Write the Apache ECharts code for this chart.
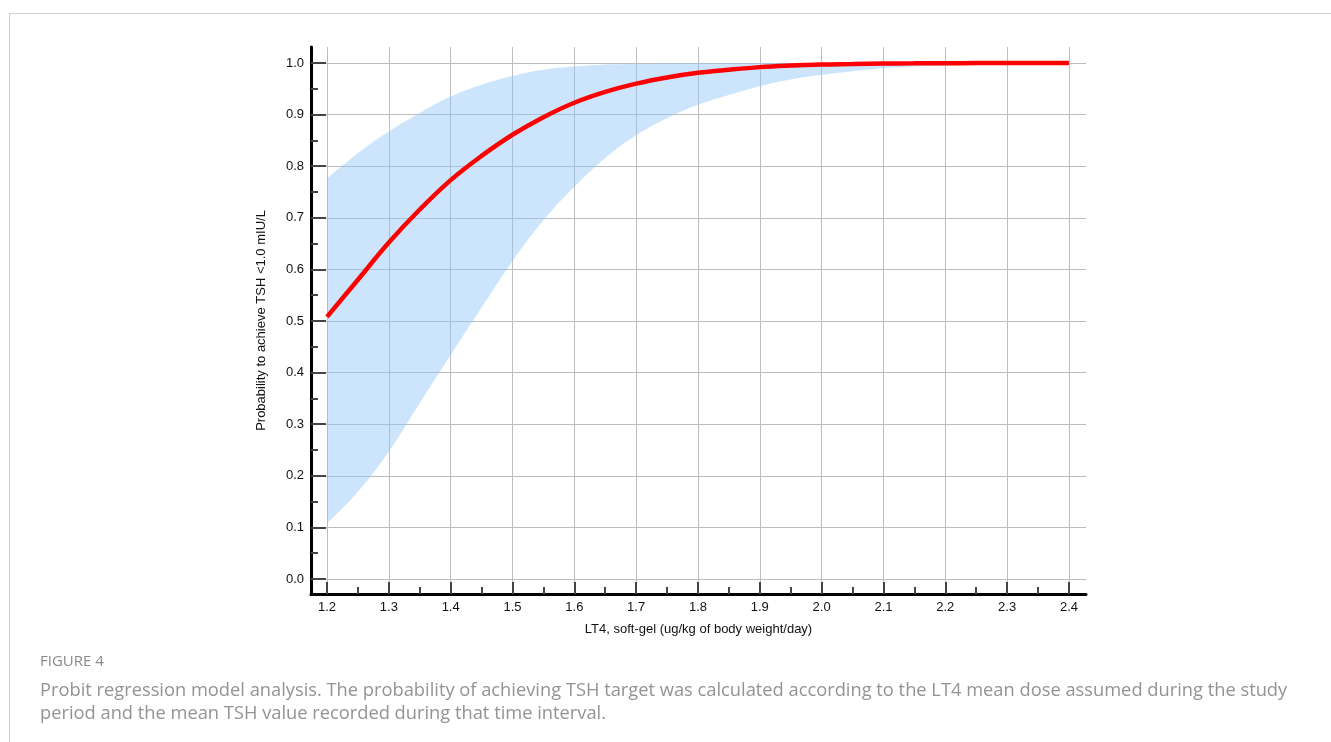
<!DOCTYPE html>
<html>
<head>
<meta charset="utf-8">
<script src="https://cdn.jsdelivr.net/npm/echarts@6/dist/echarts.min.js"></script>
<style>
  html, body { margin: 0; padding: 0; background: #fff; }
  #card { position: absolute; left: 9px; top: 13px; width: 1322px; height: 729px; border-top: 1px solid #cfcfcf; border-left: 1px solid #cfcfcf; box-sizing: border-box; }
  #chart { position: absolute; left: 0; top: 0; width: 1331px; height: 742px; }
  #fig { position: absolute; left: 40px; top: 650px; font-family: 'Open Sans', sans-serif; font-size: 15px; line-height: 20px; color: #8a8a8a; }
  #cap { position: absolute; left: 40px; top: 677px; width: 1285px; font-family: 'Open Sans', sans-serif; font-size: 18.3px; line-height: 23px; color: #939393; white-space: nowrap; }
</style>
</head>
<body>
<div id="card"></div>
<div id="chart"></div>
<div id="fig">FIGURE 4</div>
<div id="cap">Probit regression model analysis. The probability of achieving TSH target was calculated according to the LT4 mean dose assumed during the study<br>period and the mean TSH value recorded during that time interval.</div>
<script>
// Data
const doseX = [1.20,1.25,1.30,1.35,1.40,1.45,1.50,1.55,1.60,1.65,1.70,1.75,1.80,1.85,1.90,1.95,2.00,2.05,2.10,2.15,2.20,2.25,2.30,2.35,2.40];
const probit = [0.508,0.580,0.652,0.716,0.773,0.820,0.861,0.895,0.923,0.944,0.960,0.972,0.981,0.987,0.992,0.995,0.997,0.998,0.999,0.9993,0.9996,0.9998,0.9999,1.0,1.0];
const upperCI = [0.776,0.825,0.867,0.903,0.935,0.958,0.975,0.987,0.993,0.997,0.998,0.999,0.9995,1.0,1.0,1.0,1.0,1.0,1.0,1.0,1.0,1.0,1.0,1.0,1.0];
const lowerCI = [0.108,0.169,0.247,0.341,0.434,0.526,0.616,0.695,0.760,0.816,0.860,0.893,0.919,0.938,0.955,0.968,0.977,0.984,0.990,0.993,0.995,0.997,0.998,0.999,0.999];
const xMajorTicks = [1.2,1.3,1.4,1.5,1.6,1.7,1.8,1.9,2.0,2.1,2.2,2.3,2.4];
const xMinorTicks = [1.25,1.35,1.45,1.55,1.65,1.75,1.85,1.95,2.05,2.15,2.25,2.35];
const yMajorTicks = [0,0.1,0.2,0.3,0.4,0.5,0.6,0.7,0.8,0.9,1.0];
const yMinorTicks = [0.05,0.15,0.25,0.35,0.45,0.55,0.65,0.75,0.85,0.95];
const xTitle = 'LT4, soft-gel (ug/kg of body weight/day)';
const yTitle = 'Probability to achieve TSH <1.0 mIU/L';

const xMin = 1.1741, xMax = 2.4276, yMin = -0.0291, yMax = 1.031;
const font = 'Liberation Sans, Arial, sans-serif';

const pairs = (xs, ys) => xs.map((x, i) => [x, ys[i]]);
// value first, dose second, so that stacking happens on the y value
const valueFirst = (xs, ys) => xs.map((x, i) => [ys[i], x]);
const bandWidth = upperCI.map((u, i) => u - lowerCI[i]);

const chart = echarts.init(document.getElementById('chart'), null, {renderer: 'canvas'});
chart.setOption({
  animation: false,
  backgroundColor: 'transparent',
  grid: { left: 311, right: 245, top: 47, bottom: 148, containLabel: false },
  xAxis: [
    {
      type: 'value', min: xMin, max: xMax, position: 'bottom',
      name: xTitle, nameLocation: 'middle', nameGap: 29,
      nameTextStyle: { fontFamily: font, fontSize: 13, color: '#111' },
      axisLine: { show: true, onZero: false, lineStyle: { color: '#000', width: 3 } },
      axisTick: { show: true, inside: true, length: 12, customValues: xMajorTicks, lineStyle: { color: '#444', width: 2 } },
      axisLabel: { customValues: xMajorTicks, margin: 7, fontFamily: font, fontSize: 13, color: '#111', formatter: v => v.toFixed(1) },
      splitLine: { show: true, lineStyle: { color: '#bdbdbd', width: 1 } }
    },
    {
      type: 'value', min: xMin, max: xMax, position: 'bottom',
      axisLine: { show: false, onZero: false },
      axisTick: { show: true, inside: true, length: 7, customValues: xMinorTicks, lineStyle: { color: '#444', width: 2 } },
      axisLabel: { show: false },
      splitLine: { show: false }
    }
  ],
  yAxis: [
    {
      type: 'value', min: yMin, max: yMax, position: 'left',
      name: yTitle, nameLocation: 'middle', nameGap: 43, nameRotate: 90,
      nameTextStyle: { fontFamily: font, fontSize: 13, color: '#111' },
      axisLine: { show: true, onZero: false, lineStyle: { color: '#000', width: 3 } },
      axisTick: { show: true, inside: true, length: 15, customValues: yMajorTicks, lineStyle: { color: '#444', width: 2 } },
      axisLabel: { customValues: yMajorTicks, margin: 7, fontFamily: font, fontSize: 13, color: '#111', formatter: v => v.toFixed(1) },
      splitLine: { show: true, lineStyle: { color: '#bdbdbd', width: 1 } }
    },
    {
      type: 'value', min: yMin, max: yMax, position: 'left',
      axisLine: { show: false, onZero: false },
      axisTick: { show: true, inside: true, length: 7, customValues: yMinorTicks, lineStyle: { color: '#444', width: 2 } },
      axisLabel: { show: false },
      splitLine: { show: false }
    }
  ],
  series: [
    {
      name: 'lower', type: 'line', stack: 'ci', data: valueFirst(doseX, lowerCI),
      encode: { x: 1, y: 0 },
      smooth: 0.4, symbol: 'none', lineStyle: { opacity: 0 }, silent: true, z: 1
    },
    {
      name: 'band', type: 'line', stack: 'ci', data: valueFirst(doseX, bandWidth),
      encode: { x: 1, y: 0 },
      smooth: 0.4, symbol: 'none', lineStyle: { opacity: 0 },
      areaStyle: { color: 'rgba(142,197,248,0.45)', opacity: 1 }, silent: true, z: 1
    },
    {
      name: 'probit', type: 'line', data: pairs(doseX, probit),
      smooth: 0.4, symbol: 'none', lineStyle: { color: '#ff0000', width: 4.5, cap: 'butt' }, z: 3
    }
  ]
});
</script>
</body>
</html>
